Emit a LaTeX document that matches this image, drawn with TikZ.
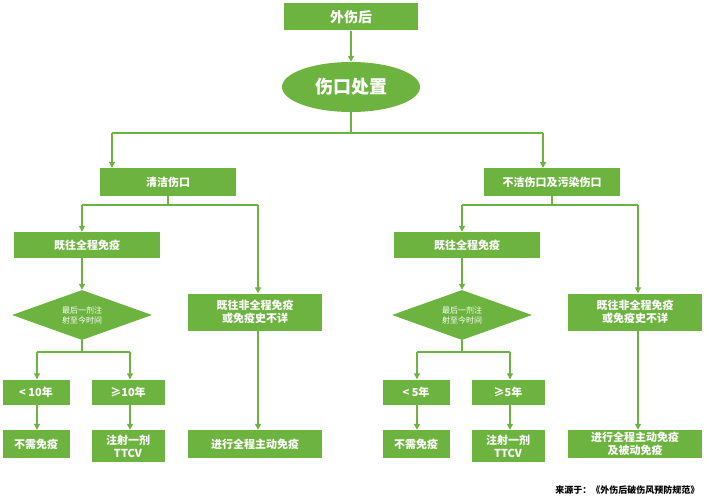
\documentclass[tikz,border=0pt]{standalone}
\usepackage{fontspec}
\setmainfont{Noto Sans CJK SC}
\usetikzlibrary{shapes.geometric,arrows.meta}
\definecolor{g}{HTML}{6DB33F}
\begin{document}
\begin{tikzpicture}[x=1pt,y=-1pt,
 box/.style={fill=g,text=white,font=\bfseries\fontsize{11}{13}\selectfont,inner sep=0pt,align=center},
 ln/.style={draw=g,line width=1.3pt},
 ar/.style={ln,-{Triangle[length=6pt,width=6pt]}}]
\useasboundingbox (0,0) rectangle (706,500);
\node[box,minimum width=134pt,minimum height=27pt,font=\bfseries\fontsize{14}{16}\selectfont] (a) at (351,17) {外伤后};
\node[box,ellipse,minimum width=138pt,minimum height=50pt,font=\bfseries\fontsize{18}{20}\selectfont] (b) at (351,87) {伤口处置};
\draw[ar] (a) -- (b);
\coordinate (j0) at (351,133);
\node[box,minimum width=136pt,minimum height=28pt] (c1) at (168,182) {清洁伤口};
\node[box,minimum width=136pt,minimum height=28pt] (c2) at (552,182) {不洁伤口及污染伤口};
\coordinate (l0) at (112,133); \coordinate (r0) at (543,133);
\draw[ln] (b) -- (j0); \draw[ln] (l0) -- (r0);
\draw[ar] (l0) -- (112,168); \draw[ar] (r0) -- (543,168);
\foreach \s/\o/\ta/\tb/\tw in {L/0/{< 10年}/{≥10年}/{进行全程主动免疫},R/380/{< 5年}/{≥5年}/{进行全程主动免疫\\及被动免疫}}{
 \begin{scope}[xshift=\o]
 \node[box,minimum width=146pt,minimum height=26pt] (f\s) at (87,245) {既往全程免疫};
 \node[box,minimum width=134pt,minimum height=37pt] (n\s) at (255,312) {既往非全程免疫\\或免疫史不详};
 \node[box,diamond,aspect=2.8,minimum width=140pt,minimum height=50pt,inner sep=0pt,font=\fontsize{8}{10}\selectfont] (d\s) at (82,315) {最后一剂注\\射至今时间};
 \node[box,minimum width=67pt,minimum height=25pt] (p\s) at (36,392) {\ta};
 \node[box,minimum width=73pt,minimum height=25pt] (q\s) at (128,392) {\tb};
 \node[box,minimum width=67pt,minimum height=28pt] (u\s) at (36,444) {不需免疫};
 \node[box,minimum width=73pt,minimum height=32pt] (v\s) at (128,446) {注射一剂\\TTCV};
 \node[box,minimum width=134pt,minimum height=28pt] (w\s) at (255,444) {\tw};
 \coordinate (h1\s) at (82,205); \coordinate (h2\s) at (258,205);
 \coordinate (m\s) at (82,352);
 \coordinate (k1\s) at (37,352); \coordinate (k2\s) at (130,352);
 \draw[ln] (h1\s) -- (h2\s);
 \draw[ar] (h1\s) -- (f\s.north -| h1\s); \draw[ar] (h2\s) -- (n\s.north -| h2\s);
 \draw[ar] (f\s.south -| d\s) -- (d\s.north);
 \draw[ln] (d\s.south) -- (m\s); \draw[ln] (k1\s) -- (k2\s);
 \draw[ar] (k1\s) -- (p\s.north -| k1\s); \draw[ar] (k2\s) -- (q\s.north -| k2\s);
 \draw[ar] (p\s.south -| k1\s) -- (u\s.north -| k1\s); \draw[ar] (q\s.south -| k2\s) -- (v\s.north -| k2\s);
 \draw[ar] (n\s.south -| h2\s) -- (w\s.north -| h2\s);
 \end{scope}}
\draw[ln] (c1) -- (c1 |- h1L); \draw[ln] (c2) -- (c2 |- h1R);
\node[anchor=east,font=\bfseries\fontsize{9}{11}\selectfont] (src) at (703,490) {来源于：《外伤后破伤风预防规范》};
\end{tikzpicture}
\end{document}
